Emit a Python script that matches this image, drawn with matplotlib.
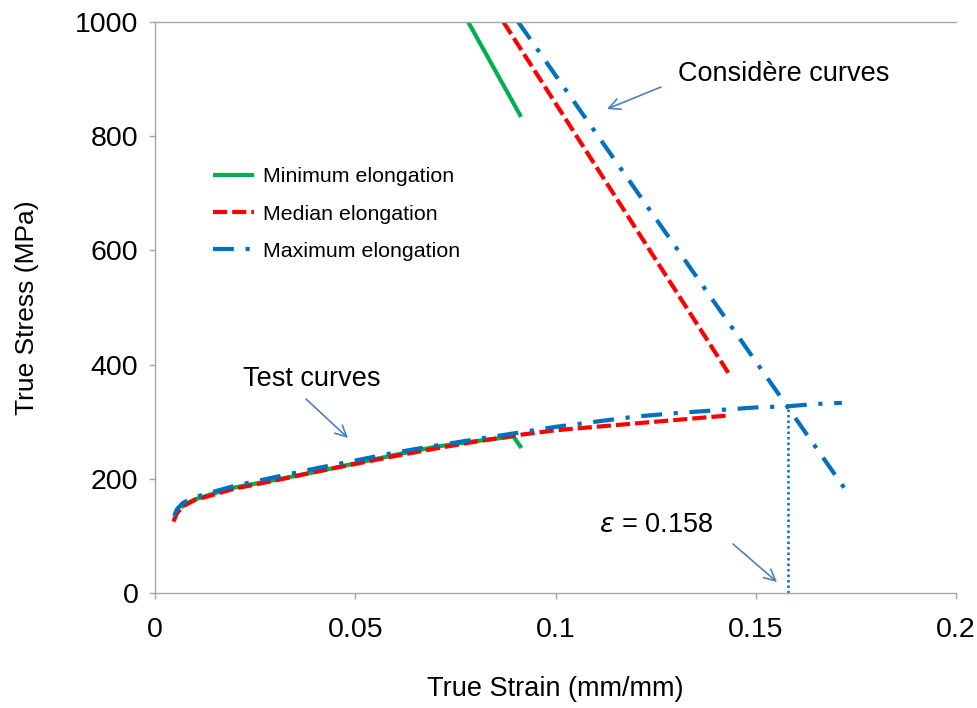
import matplotlib
matplotlib.use("Agg")
import matplotlib.pyplot as plt

plt.rcParams['font.family'] = ['Liberation Sans', 'DejaVu Sans']

# ---- data ----
min_test_strain = [0.0065, 0.008, 0.010, 0.015, 0.020, 0.030, 0.040, 0.050, 0.060, 0.070, 0.080, 0.0895, 0.0915]
min_test_stress = [150, 157, 164, 175, 185, 198, 212, 227, 242, 256, 266, 274, 254]

med_test_strain = [0.0046, 0.0055, 0.007, 0.010, 0.020, 0.030, 0.040, 0.050, 0.060, 0.070, 0.080, 0.090,
                   0.100, 0.110, 0.120, 0.130, 0.1434]
med_test_stress = [125, 140, 152, 163, 183, 197, 212, 226, 240, 253, 265, 276, 285, 291, 297, 303, 311]

max_test_strain = [0.0048, 0.0055, 0.007, 0.010, 0.020, 0.030, 0.040, 0.050, 0.060, 0.070, 0.080, 0.090,
                   0.100, 0.110, 0.120, 0.130, 0.140, 0.150, 0.158, 0.165, 0.1715]
max_test_stress = [135, 147, 158, 168, 188, 203, 218, 232, 246, 258, 269, 280, 291, 300, 309, 315, 320, 325,
                   327, 331, 333]

min_cons_strain = [0.0782, 0.0914]
min_cons_stress = [1000, 834]
med_cons_strain = [0.0870, 0.1432]
med_cons_stress = [1000, 385]
max_cons_strain = [0.0907, 0.1725]
max_cons_stress = [1000, 180]

necking_strain = 0.158
necking_stress = 327

labels = ["Minimum elongation", "Median elongation", "Maximum elongation"]
green = "#00B050"
red = "#FF0000"
blue = "#0070C0"
arrow_c = "#4F81BD"
grey = "#A6A6A6"

fig = plt.figure(figsize=(9.78, 7.08), dpi=100)
ax = fig.add_axes([155/978, 1-593/708, 801/978, 571/708])

lw = 3.0
red_dash = (0, (3.4, 1.2))
blue_dash = (0, (5.0, 2.8, 1.0, 2.8))

l1, = ax.plot(min_test_strain, min_test_stress, color=green, lw=lw, solid_capstyle='butt')
l2, = ax.plot(med_test_strain, med_test_stress, color=red, lw=lw, linestyle=red_dash)
l3, = ax.plot(max_test_strain, max_test_stress, color=blue, lw=lw, linestyle=blue_dash)
ax.plot(min_cons_strain, min_cons_stress, color=green, lw=lw, solid_capstyle='butt')
ax.plot(med_cons_strain, med_cons_stress, color=red, lw=lw, linestyle=red_dash)
ax.plot(max_cons_strain, max_cons_stress, color=blue, lw=lw, linestyle=blue_dash)

ax.plot([necking_strain, necking_strain], [0, necking_stress], color=blue, lw=1.8,
        linestyle=(0, (1, 1.2)))

ax.set_xlim(0, 0.2)
ax.set_ylim(0, 1000)
ax.set_xticks([0, 0.05, 0.1, 0.15, 0.2])
ax.set_xticklabels(["0", "0.05", "0.1", "0.15", "0.2"])
ax.set_yticks([0, 200, 400, 600, 800, 1000])

for s in ['left', 'bottom', 'top']:
    ax.spines[s].set_color(grey)
    ax.spines[s].set_linewidth(1.0)
ax.spines['right'].set_visible(False)
ax.tick_params(axis='both', direction='out', length=4, width=1, color=grey, labelsize=20.5)
ax.tick_params(axis='x', pad=13)
ax.tick_params(axis='y', pad=8)

ax.set_xlabel("True Strain (mm/mm)", fontsize=19.5, va='center')
ax.xaxis.set_label_coords(0.5, (593-688.5)/571)
ax.set_ylabel("True Stress (MPa)", fontsize=19, va='center')
ax.yaxis.set_label_coords((27-155)/801, 0.5)

leg = ax.legend([l1, l2, l3], labels, loc='center left',
                bbox_to_anchor=((213-155)/801, (593-214)/571),
                frameon=False, fontsize=15.4, borderpad=0, borderaxespad=0,
                handlelength=1.9, handletextpad=0.45, labelspacing=0.85)

ap = dict(arrowstyle='->', color=arrow_c, lw=1.2, mutation_scale=20, shrinkA=0, shrinkB=0)

def px(xp, yp):
    return ((xp-155)/4005, (593-yp)/0.571)

ax.annotate("", xy=px(607, 109), xytext=px(661, 87), arrowprops=ap, annotation_clip=False)
ax.text(*px(678, 74), "Considère curves", fontsize=19.5, ha='left', va='center')

ax.annotate("", xy=px(348, 438), xytext=px(306, 399), arrowprops=ap, annotation_clip=False)
ax.text(*px(243, 379), "Test curves", fontsize=19.5, ha='left', va='center')

ax.annotate("", xy=px(777, 582), xytext=px(733, 544), arrowprops=ap, annotation_clip=False)
ax.text(*px(599, 525), r"$\varepsilon$ = 0.158", fontsize=19.5, ha='left', va='center')

fig.savefig("out.png", dpi=100)
